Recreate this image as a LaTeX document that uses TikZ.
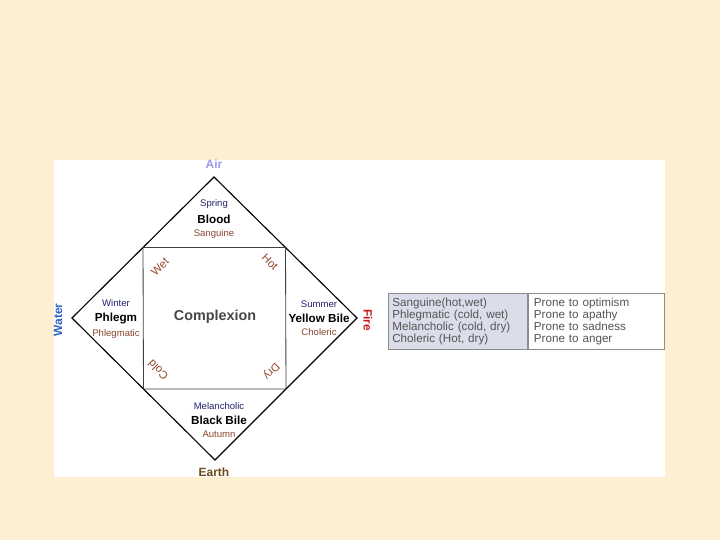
\documentclass[tikz,border=0pt]{standalone}
\usepackage{fontspec}
\setmainfont{Liberation Sans}
\usepackage{xcolor}
\usetikzlibrary{positioning, calc}
\definecolor{parchment}{HTML}{FCEFD2}
\definecolor{seasoncol}{HTML}{22226E}
\definecolor{tempercol}{HTML}{8A4530}
\definecolor{qualcol}{HTML}{96452E}
\definecolor{aircol}{HTML}{9A9AEE}
\definecolor{watercol}{HTML}{2F62C0}
\definecolor{firecol}{HTML}{C81818}
\definecolor{earthcol}{HTML}{6A4A1C}
\definecolor{tablefill}{HTML}{DCDDEA}
\definecolor{tabletext}{HTML}{555555}

\begin{document}
\begin{tikzpicture}[
  x=0.025cm, y=-0.025cm,
  node distance=0.14cm,
  season/.style={font=\fontsize{6.8}{8}\selectfont, text=seasoncol, inner sep=0pt},
  humour/.style={font=\bfseries\fontsize{8.3}{10}\selectfont, inner sep=0pt},
  temper/.style={font=\fontsize{6.8}{8}\selectfont, text=tempercol, inner sep=0pt},
  quality/.style={font=\fontsize{8}{9}\selectfont, text=qualcol, inner sep=0pt},
  element/.style={font=\bfseries\fontsize{8.5}{10}\selectfont, inner sep=0pt},
  cell/.style={rectangle, draw=black!45, anchor=north west, minimum height=1.35cm,
    font=\fontsize{8.3}{8.5}\selectfont, text=tabletext, align=left}
]
  % page and panel
  \fill[parchment] (0,0) rectangle (720,540);
  \fill[white] (54,160) rectangle (665,477);
  \useasboundingbox (0,0) rectangle (720,540);

  % diamond corners
  \coordinate (top) at (214,177);
  \coordinate (lft) at (72,318);
  \coordinate (rgt) at (357,318);
  \coordinate (bot) at (215,460);
  \coordinate (sqa) at ($(top)!0.5!(lft)$);
  \coordinate (sqb) at ($(top)!0.5!(rgt)$);
  \coordinate (sqc) at ($(bot)!0.5!(rgt)$);
  \coordinate (sqd) at ($(bot)!0.5!(lft)$);

  \draw[line width=0.8pt, line join=miter] (top) -- (rgt) -- (bot) -- (lft) -- cycle;
  \draw[black!75, line width=0.6pt] (sqa) -- (sqb) -- (sqc) -- (sqd) -- cycle;

  % elements
  \node[element, text=aircol] (air) at (214,164) {Air};
  \node[element, text=earthcol] (earth) at (214,472) {Earth};
  \node[element, text=watercol, rotate=90] (water) at (58,320) {Water};
  \node[element, text=firecol, rotate=-90] (fire) at (368,320) {Fire};

  % humours
  \node[humour] (blood) at (214,219) {Blood};
  \node[season, above=of blood] (spring) {Spring};
  \node[temper, below=of blood] (sanguine) {Sanguine};

  \node[humour] (phlegm) at (116,318) {Phlegm};
  \node[season, above=of phlegm] (winter) {Winter};
  \node[temper, below=of phlegm] (phlegmatic) {Phlegmatic};

  \node[humour] (yellow) at (319,318) {Yellow Bile};
  \node[season, above=of yellow] (summer) {Summer};
  \node[temper, below=of yellow] (choleric) {Choleric};

  \node[humour] (black) at (219,420) {Black Bile};
  \node[season, above=of black] (melancholic) {Melancholic};
  \node[temper, below=of black] (autumn) {Autumn};

  \node[font=\bfseries\fontsize{10.2}{12}\selectfont, text=black!72, inner sep=0pt] (complexion) at (215,317) {Complexion};

  % qualities
  \node[quality, rotate=45] (wet) at (160,267) {Wet};
  \node[quality, rotate=-45] (hot) at (270,262) {Hot};
  \node[quality, rotate=135] (cold) at (158,370) {Cold};
  \node[quality, rotate=225] (dry) at (271,371) {Dry};

  % table
  \node[cell, fill=tablefill, minimum width=3.475cm, text width=3.275cm, inner xsep=0.1cm] (temperament) at (388,293)
    {Sanguine(hot,wet)\\Phlegmatic (cold, wet)\\Melancholic (cold, dry)\\Choleric (Hot, dry)};
  \node[cell, fill=white, minimum width=3.4cm, text width=3.1cm, inner xsep=0.15cm, right=0pt of temperament.north east, anchor=north west] (prone)
    {Prone to optimism\\Prone to apathy\\Prone to sadness\\Prone to anger};
\end{tikzpicture}
\end{document}
